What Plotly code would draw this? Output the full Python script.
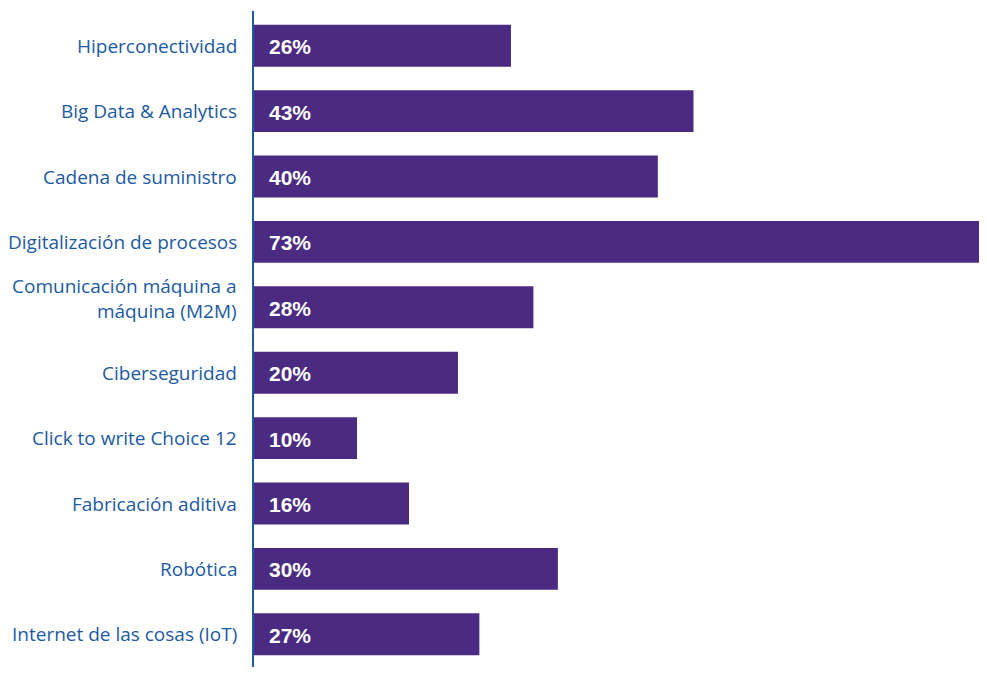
import plotly.graph_objects as go

categories = [
    "Hiperconectividad",
    "Big Data & Analytics",
    "Cadena de suministro",
    "Digitalización de procesos",
    "Comunicación máquina a<br>máquina (M2M)",
    "Ciberseguridad",
    "Click to write Choice 12",
    "Fabricación aditiva",
    "Robótica",
    "Internet de las cosas (IoT)",
]
# bar lengths as drawn in the picture (percent)
values = [25.3, 43.2, 39.7, 73.0, 27.5, 20.1, 10.2, 15.3, 29.9, 22.2]
# printed labels
labels = ["26%", "43%", "40%", "73%", "28%", "20%", "10%", "16%", "30%", "27%"]

BAR = "#4B2A82"
BLUE = "#1C5AA3"

fig = go.Figure(go.Bar(
    y=categories, x=values, orientation="h",
    marker=dict(color=BAR, line=dict(width=0)),
    width=0.64, hoverinfo="skip",
))

for c, l in zip(categories, labels):
    fig.add_annotation(x=0, y=c, text="<b>%s</b>" % l, xref="x", yref="y",
                       xanchor="left", yanchor="middle", xshift=14, yshift=-1,
                       showarrow=False,
                       font=dict(family="Liberation Sans, Arial, sans-serif", size=21, color="white"))
    # category label left of the axis
    fig.add_annotation(x=0, y=c, text=c, xref="paper", yref="y",
                       xanchor="right", yanchor="middle", align="right",
                       xshift=-14, yshift=(9 if "<br>" in c else 0),
                       showarrow=False,
                       font=dict(family="Open Sans, sans-serif", size=19, color=BLUE))

fig.add_shape(type="line", xref="paper", yref="paper", x0=0, x1=0, y0=-0.05, y1=1.003,
              line=dict(color=BLUE, width=2))

fig.update_layout(
    width=971, height=659,
    margin=dict(l=245, r=0, t=5, b=0),
    paper_bgcolor="white", plot_bgcolor="white",
    showlegend=False,
    bargap=0.36,
    xaxis=dict(range=[0, 71.2], visible=False, fixedrange=True),
    yaxis=dict(autorange="reversed", showgrid=False, zeroline=False, showline=False,
               ticks="", showticklabels=False),
)

fig.write_html("out.html")
